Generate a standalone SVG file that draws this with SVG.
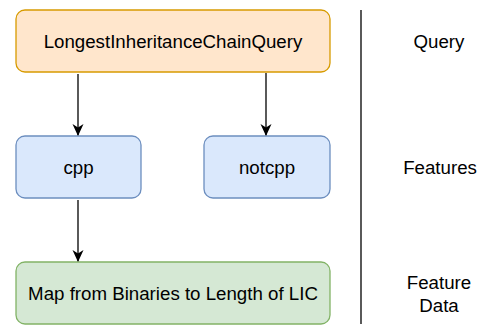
<svg xmlns="http://www.w3.org/2000/svg" width="481" height="325" viewBox="0 0 481 325">
<style>
text{font-family:"Liberation Sans",Arial,sans-serif;font-size:18.7px;fill:#000;text-anchor:middle;dominant-baseline:central}
.o{fill:#ffe6cc;stroke:#d79b00;stroke-width:1.3}
.b{fill:#dae8fc;stroke:#6c8ebf;stroke-width:1.3}
.g{fill:#d5e8d4;stroke:#82b366;stroke-width:1.3}
.c{stroke:#000;stroke-width:1.3;fill:none;marker-end:url(#a)}
</style>
<defs><marker id="a" viewBox="0 0 12 12" refX="11" refY="6" markerWidth="12" markerHeight="12" markerUnits="userSpaceOnUse" orient="auto"><path d="M0,0.5 L12,6 L0,11.5 L3.5,6 Z" fill="#000"/></marker></defs>
<rect x="0" y="0" width="481" height="325" fill="#fff"/>
<g id="query"><rect class="o" x="16" y="10" width="314" height="62" rx="9"/><text x="173" y="41">LongestInheritanceChainQuery</text></g>
<g id="cpp"><rect class="b" x="16" y="136" width="125" height="62" rx="9"/><text x="78.5" y="167">cpp</text></g>
<g id="notcpp"><rect class="b" x="204" y="136" width="126" height="62" rx="9"/><text x="267" y="167">notcpp</text></g>
<g id="data"><rect class="g" x="16" y="262" width="314" height="62" rx="9"/><text x="173" y="293">Map from Binaries to Length of LIC</text></g>
<g id="connectors">
<path class="c" d="M78,74 V135"/>
<path class="c" d="M266,73 V135"/>
<path class="c" d="M78,200 V261"/>
</g>
<g id="divider"><line x1="361" y1="10" x2="361" y2="324" stroke="#000" stroke-width="1.3"/></g>
<g id="labels">
<text x="439" y="41">Query</text>
<text x="440" y="167">Features</text>
<text x="439" y="282">Feature</text>
<text x="439" y="305">Data</text>
</g>
</svg>
